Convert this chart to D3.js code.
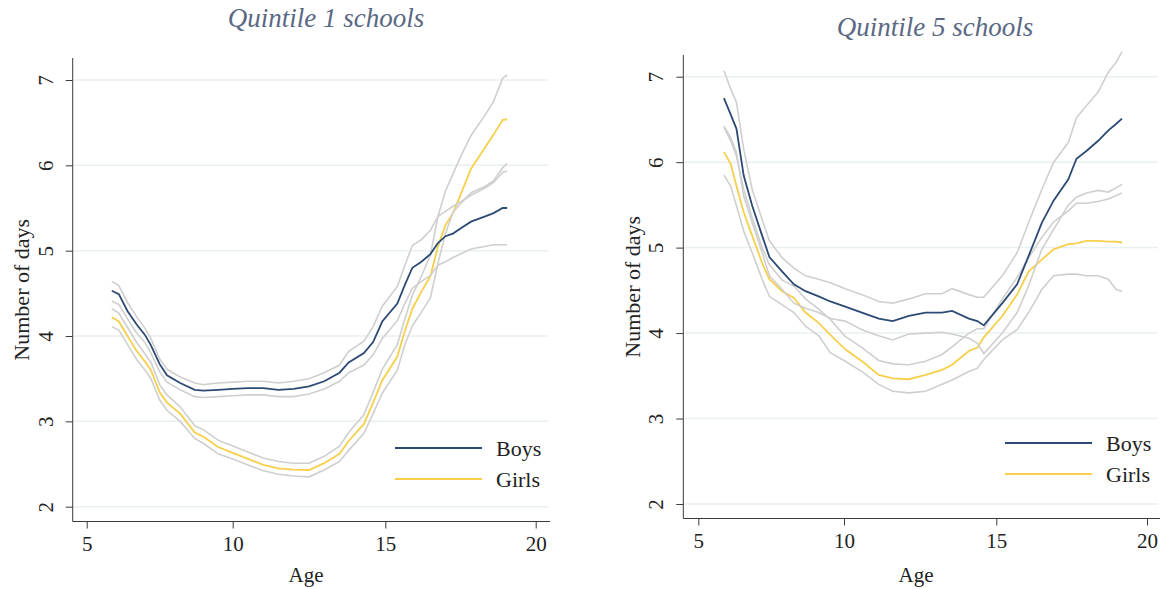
<!DOCTYPE html>
<html>
<head>
<meta charset="utf-8">
<script src="https://cdn.jsdelivr.net/npm/d3@7"></script>
<style>
  html, body { margin: 0; padding: 0; background: #ffffff; }
  svg { display: block; }
</style>
</head>
<body>
<div id="chart"></div>
<script>
// ---------------- DATA ----------------
const panelTitles = ["Quintile 1 schools", "Quintile 5 schools"];
const seriesNames = ["Boys", "Girls"];
const xTicks = [5, 10, 15, 20];
const yTicks = [2, 3, 4, 5, 6, 7];
const xLabel = "Age";
const yLabel = "Number of days";

// Quintile 1 schools
const q1Age = [5.86, 6.1, 6.4, 6.7, 7.0, 7.2, 7.5, 7.75, 8.2, 8.7, 9.0, 9.5, 10, 10.5, 11, 11.5, 12, 12.5, 13, 13.5, 13.8, 14.3, 14.6, 14.9, 15.4, 15.65, 15.9, 16.2, 16.5, 16.75, 17, 17.25, 17.5, 17.85, 18.3, 18.6, 18.9, 19.05];
const q1Boys   = [4.53, 4.49, 4.29, 4.14, 4.01, 3.89, 3.67, 3.54, 3.45, 3.37, 3.36, 3.37, 3.38, 3.39, 3.39, 3.37, 3.38, 3.41, 3.47, 3.57, 3.69, 3.80, 3.93, 4.17, 4.38, 4.60, 4.80, 4.87, 4.96, 5.09, 5.17, 5.20, 5.26, 5.34, 5.40, 5.44, 5.50, 5.50];
const q1BoysHi = [4.64, 4.59, 4.39, 4.23, 4.09, 3.97, 3.73, 3.61, 3.52, 3.45, 3.43, 3.45, 3.46, 3.47, 3.47, 3.45, 3.47, 3.50, 3.57, 3.66, 3.82, 3.94, 4.11, 4.35, 4.58, 4.83, 5.06, 5.13, 5.24, 5.40, 5.46, 5.52, 5.57, 5.65, 5.73, 5.80, 5.92, 5.93];
const q1BoysLo = [4.41, 4.37, 4.20, 4.04, 3.92, 3.80, 3.58, 3.46, 3.37, 3.29, 3.28, 3.29, 3.30, 3.31, 3.31, 3.29, 3.29, 3.32, 3.38, 3.47, 3.57, 3.66, 3.78, 3.97, 4.18, 4.38, 4.56, 4.64, 4.71, 4.83, 4.87, 4.92, 4.96, 5.02, 5.05, 5.07, 5.07, 5.07];
const q1Girls   = [4.22, 4.17, 4.00, 3.83, 3.70, 3.60, 3.34, 3.22, 3.09, 2.87, 2.82, 2.70, 2.63, 2.56, 2.49, 2.45, 2.435, 2.43, 2.51, 2.62, 2.77, 2.97, 3.22, 3.48, 3.76, 4.06, 4.32, 4.52, 4.70, 5.05, 5.30, 5.44, 5.65, 5.96, 6.20, 6.36, 6.53, 6.54];
const q1GirlsHi = [4.32, 4.27, 4.10, 3.93, 3.79, 3.69, 3.43, 3.31, 3.17, 2.95, 2.90, 2.78, 2.71, 2.64, 2.57, 2.53, 2.51, 2.51, 2.59, 2.71, 2.87, 3.08, 3.34, 3.61, 3.90, 4.20, 4.48, 4.70, 4.95, 5.40, 5.70, 5.90, 6.10, 6.35, 6.58, 6.75, 7.02, 7.06];
const q1GirlsLo = [4.11, 4.07, 3.90, 3.73, 3.60, 3.50, 3.25, 3.13, 3.00, 2.80, 2.74, 2.62, 2.56, 2.49, 2.42, 2.38, 2.36, 2.35, 2.43, 2.53, 2.66, 2.86, 3.09, 3.33, 3.60, 3.90, 4.12, 4.28, 4.45, 4.85, 5.20, 5.45, 5.55, 5.68, 5.75, 5.82, 5.97, 6.02];

// Quintile 5 schools
const q5Age = [5.88, 6.11, 6.31, 6.56, 6.85, 7.19, 7.44, 7.88, 8.28, 8.68, 9.13, 9.53, 10.04, 10.59, 11.14, 11.60, 12.13, 12.68, 13.22, 13.55, 14.10, 14.38, 14.59, 15.20, 15.69, 16.07, 16.51, 16.90, 17.39, 17.66, 17.99, 18.38, 18.71, 18.98, 19.17];
const q5Boys   = [6.75, 6.56, 6.39, 5.84, 5.49, 5.14, 4.89, 4.72, 4.57, 4.49, 4.43, 4.37, 4.31, 4.24, 4.17, 4.14, 4.20, 4.24, 4.24, 4.26, 4.17, 4.14, 4.09, 4.35, 4.57, 4.90, 5.29, 5.55, 5.80, 6.04, 6.13, 6.25, 6.37, 6.45, 6.51];
const q5BoysHi = [7.07, 6.86, 6.70, 6.15, 5.68, 5.33, 5.08, 4.88, 4.76, 4.67, 4.63, 4.59, 4.52, 4.45, 4.37, 4.35, 4.40, 4.46, 4.46, 4.52, 4.45, 4.42, 4.42, 4.67, 4.94, 5.29, 5.68, 6.00, 6.23, 6.52, 6.66, 6.82, 7.05, 7.17, 7.29];
const q5BoysLo = [6.42, 6.29, 6.11, 5.60, 5.29, 4.94, 4.67, 4.51, 4.35, 4.29, 4.24, 4.17, 4.14, 4.04, 3.97, 3.92, 3.99, 4.00, 4.01, 3.99, 3.94, 3.88, 3.76, 4.00, 4.24, 4.55, 4.98, 5.21, 5.50, 5.59, 5.64, 5.67, 5.65, 5.70, 5.74];
const q5Girls   = [6.12, 5.98, 5.72, 5.41, 5.14, 4.82, 4.63, 4.49, 4.41, 4.24, 4.12, 3.98, 3.81, 3.67, 3.51, 3.47, 3.46, 3.51, 3.57, 3.63, 3.79, 3.83, 3.95, 4.20, 4.45, 4.72, 4.86, 4.98, 5.04, 5.05, 5.08, 5.08, 5.07, 5.07, 5.06];
const q5GirlsHi = [6.41, 6.25, 6.07, 5.68, 5.35, 5.00, 4.80, 4.62, 4.55, 4.40, 4.28, 4.16, 3.96, 3.83, 3.68, 3.64, 3.63, 3.67, 3.75, 3.84, 4.00, 4.05, 4.05, 4.40, 4.65, 4.88, 5.12, 5.30, 5.43, 5.52, 5.52, 5.54, 5.57, 5.61, 5.64];
const q5GirlsLo = [5.85, 5.72, 5.49, 5.19, 4.94, 4.63, 4.43, 4.33, 4.24, 4.08, 3.97, 3.77, 3.67, 3.55, 3.40, 3.32, 3.30, 3.32, 3.40, 3.45, 3.55, 3.59, 3.69, 3.92, 4.04, 4.24, 4.51, 4.67, 4.69, 4.69, 4.67, 4.67, 4.63, 4.51, 4.49];

// ---------------- STYLE ----------------
const W = 1163, H = 589;
const colBoys = "#2c4a74";
const colGirls = "#f7cf4a";
const colCI = "#cfcfcf";
const colGrid = "#e9f0f3";
const colAxis = "#3a3a3a";
const colTitle = "#5a6884";
const serif = "'Liberation Serif', 'DejaVu Serif', serif";

const panels = [
  { title: panelTitles[0], age: q1Age,
    boys: q1Boys, boysHi: q1BoysHi, boysLo: q1BoysLo,
    girls: q1Girls, girlsHi: q1GirlsHi, girlsLo: q1GirlsLo,
    axisX: 72.7, axisRight: 550, yTop: 58, yBottom: 521.5,
    xRange: [86.7, 232.7, 385.3, 535.7], yRange: [506.7, 80],
    titleX: 326, titleY: 27, legX: 395, legY: 448, yLabX: 21, ageX: 306 },
  { title: panelTitles[1], age: q5Age,
    boys: q5Boys, boysHi: q5BoysHi, boysLo: q5BoysLo,
    girls: q5Girls, girlsHi: q5GirlsHi, girlsLo: q5GirlsLo,
    axisX: 683.3, axisRight: 1160, yTop: 55, yBottom: 518.5,
    xRange: [698.3, 844, 996.3, 1147], yRange: [504, 76.7],
    titleX: 935, titleY: 36, legX: 1005, legY: 443, yLabX: 632, ageX: 916 }
];

const svg = d3.select("#chart").append("svg")
  .attr("width", W).attr("height", H)
  .style("background", "#ffffff");

panels.forEach(p => {
  const x = d3.scaleLinear().domain(xTicks).range(p.xRange);
  const y = d3.scaleLinear().domain([2, 7]).range(p.yRange);
  const g = svg.append("g");

  // gridlines
  g.selectAll("line.grid").data(yTicks).enter().append("line")
    .attr("class", "grid")
    .attr("x1", p.axisX + 1).attr("x2", p.axisRight - 2)
    .attr("y1", d => y(d)).attr("y2", d => y(d))
    .attr("stroke", colGrid).attr("stroke-width", 1.5);

  // y axis
  const yAxis = d3.axisLeft(y).tickValues(yTicks).tickSize(7).tickPadding(6).tickFormat(d3.format("d"));
  const ya = g.append("g").attr("transform", `translate(${p.axisX},0)`).call(yAxis);
  ya.select(".domain").attr("d", `M0,${p.yTop}V${p.yBottom}`).attr("stroke", colAxis);
  ya.selectAll(".tick line").attr("stroke", colAxis);
  ya.selectAll(".tick text")
    .attr("font-family", serif).attr("font-size", 21).attr("fill", "#222")
    .attr("text-anchor", "middle").attr("dy", 0)
    .attr("x", null)
    .attr("transform", "translate(-27,0) rotate(-90)")
    .attr("dominant-baseline", "central");

  // x axis
  const xAxis = d3.axisBottom(x).tickValues(xTicks).tickSize(7).tickPadding(8).tickFormat(d3.format("d"));
  const xa = g.append("g").attr("transform", `translate(0,${p.yBottom})`).call(xAxis);
  xa.select(".domain").attr("d", `M${p.axisX},0H${p.axisRight}`).attr("stroke", colAxis);
  xa.selectAll(".tick line").attr("stroke", colAxis);
  xa.selectAll(".tick text").attr("font-family", serif).attr("font-size", 21).attr("fill", "#222");

  // axis titles
  g.append("text").attr("x", p.ageX).attr("y", 582)
    .attr("text-anchor", "middle").attr("font-family", serif).attr("font-size", 21).attr("fill", "#222")
    .text(xLabel);
  g.append("text")
    .attr("transform", `translate(${p.yLabX},${(p.yTop + p.yBottom) / 2}) rotate(-90)`)
    .attr("text-anchor", "middle").attr("dominant-baseline", "central")
    .attr("font-family", serif).attr("font-size", 22).attr("fill", "#222")
    .text(yLabel);

  // title
  g.append("text").attr("x", p.titleX).attr("y", p.titleY)
    .attr("text-anchor", "middle").attr("font-family", serif).attr("font-style", "italic")
    .attr("font-size", 27).attr("fill", colTitle).text(p.title);

  const line = vals => d3.line().x((d, i) => x(p.age[i])).y(d => y(d))(vals);

  // main lines and CIs
  g.append("path").attr("d", line(p.girls)).attr("fill", "none").attr("stroke", colGirls).attr("stroke-width", 1.8);
  [p.boysHi, p.boysLo, p.girlsHi, p.girlsLo].forEach(s => {
    g.append("path").attr("d", line(s)).attr("fill", "none").attr("stroke", colCI).attr("stroke-width", 1.6);
  });
  g.append("path").attr("d", line(p.boys)).attr("fill", "none").attr("stroke", colBoys).attr("stroke-width", 1.8);

  // legend
  const leg = g.append("g");
  [colBoys, colGirls].forEach((c, i) => {
    leg.append("line").attr("x1", p.legX).attr("x2", p.legX + 87)
      .attr("y1", p.legY + i * 31).attr("y2", p.legY + i * 31)
      .attr("stroke", c).attr("stroke-width", 1.8);
    leg.append("text").attr("x", p.legX + 101).attr("y", p.legY + i * 31)
      .attr("dominant-baseline", "central")
      .attr("font-family", serif).attr("font-size", 22).attr("fill", "#222")
      .text(seriesNames[i]);
  });
});
</script>
</body>
</html>
